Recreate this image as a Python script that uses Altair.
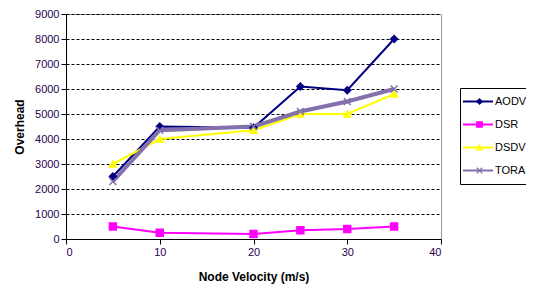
import altair as alt
import pandas as pd

velocity = [5, 10, 20, 25, 30, 35]
aodv = [2500, 4500, 4450, 6100, 5950, 8000]
dsr = [500, 250, 200, 350, 400, 500]
dsdv = [3000, 4000, 4350, 5000, 5000, 5800]
tora = [2300, 4350, 4500, 5100, 5500, 6000]

series = {"AODV": aodv, "DSR": dsr, "DSDV": dsdv, "TORA": tora}
rows = []
for name, vals in series.items():
    for v, o in zip(velocity, vals):
        rows.append({"Protocol": name, "Marker": "m-" + name, "Velocity": v, "Overhead": o})
df = pd.DataFrame(rows)

names = ["AODV", "DSR", "DSDV", "TORA"]
marker_names = ["m-" + n for n in names]
colors = ["#000080", "#FF00FF", "#FFFF00", "#8470AC"]
shapes = ["diamond", "square", "triangle-up", "M-1,-1L1,1M-1,1L1,-1"]

x = alt.X("Velocity:Q", title="Node Velocity (m/s)",
          scale=alt.Scale(domain=[0, 40], nice=False),
          axis=alt.Axis(values=[0, 10, 20, 30, 40], grid=False, tickSize=5,
                        titlePadding=14))
y = alt.Y("Overhead:Q", title="Overhead",
          scale=alt.Scale(domain=[0, 9000], nice=False),
          axis=alt.Axis(values=list(range(0, 10000, 1000)), grid=True, format="d",
                        gridDash=[3, 2], gridColor="#000000", gridWidth=1,
                        tickSize=5, titlePadding=8))

LX, LY = 394, 74

line_color = alt.Color("Protocol:N", scale=alt.Scale(domain=names, range=colors),
                       legend=alt.Legend(title=None, orient="none", legendX=LX, legendY=LY,
                                         strokeColor="#000000", padding=2,
                                         symbolType="stroke", symbolStrokeWidth=2,
                                         symbolSize=900, clipHeight=23, rowPadding=0,
                                         labelOffset=1, labelFontSize=11,
                                         labelColor="#000000",
                                         labelFont="Liberation Sans"))

base = alt.Chart(df)
lines_thin = base.transform_filter(alt.datum.Protocol != "TORA").mark_line(strokeWidth=2).encode(
    x=x, y=y, color=line_color)
lines_thick = base.transform_filter(alt.datum.Protocol == "TORA").mark_line(strokeWidth=4).encode(
    x=x, y=y, color=line_color)

pt_legend = alt.Legend(title=None, orient="none", legendX=LX + 12, legendY=LY,
                       padding=2, symbolSize=30, clipHeight=23, rowPadding=0,
                       symbolStrokeWidth=1.2, labelExpr="''", labelFontSize=11,
                       labelOffset=0)
points = base.mark_point(filled=True, size=48, opacity=1, strokeWidth=1.5).encode(
    x=x, y=y,
    fill=alt.Fill("Marker:N", scale=alt.Scale(domain=marker_names, range=colors), legend=pt_legend),
    stroke=alt.Stroke("Marker:N", scale=alt.Scale(domain=marker_names, range=colors), legend=pt_legend),
    shape=alt.Shape("Marker:N", scale=alt.Scale(domain=marker_names, range=shapes), legend=pt_legend),
)

chart = alt.layer(lines_thin, lines_thick, points).properties(
    width=375, height=225,
    autosize=alt.AutoSizeParams(type="none"),
    padding={"left": 58, "top": 6, "right": 85, "bottom": 49},
).configure_view(
    stroke="#999999", strokeWidth=1
).configure_axis(
    domainColor="#000000", tickColor="#000000", labelColor="#2a0050",
    labelFont="Liberation Sans", labelFontSize=11,
    titleFont="Liberation Sans", titleFontSize=12, titleFontWeight="bold",
    titleColor="#000000",
)

chart.save("out.html", embed_options={"renderer": "svg", "actions": False})
